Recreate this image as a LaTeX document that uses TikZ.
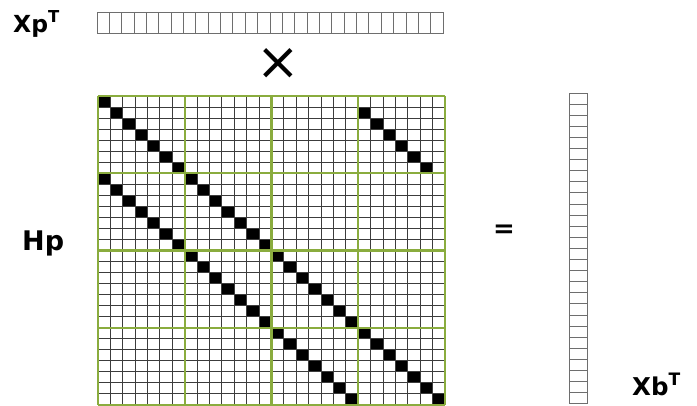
\documentclass[tikz,border=0pt]{standalone}
\usepackage{fontspec}
\setmainfont{DejaVu Sans}
\definecolor{blockgreen}{RGB}{138,172,62}
\definecolor{gridgray}{RGB}{60,60,60}
\definecolor{vecgray}{RGB}{110,110,110}
\begin{document}
\begin{tikzpicture}[x=1pt,y=-1pt,
  gridline/.style={draw=gridgray,line width=1pt},
  blockline/.style={draw=blockgreen,line width=2.2pt},
  vecline/.style={draw=vecgray,line width=1pt},
  lbl/.style={inner sep=0pt,anchor=base west,font=\bfseries}]
\useasboundingbox[fill=white] (0,0) rectangle (697,405);
\def\mx{98}\def\my{96}\def\cw{12.393}\def\ch{11.036}
% black diagonal cells
\foreach \br/\bc in {0/0,1/0,1/1,2/1,2/2,3/2,3/3}{
  \foreach \i in {0,...,6}{
    \pgfmathsetmacro\xa{\mx+(7*\bc+\i)*\cw}
    \pgfmathsetmacro\ya{\my+(7*\br+\i)*\ch}
    \fill[black] (\xa,\ya) rectangle ++(\cw,\ch);
  }
}
\foreach \i in {0,...,5}{
  \pgfmathsetmacro\xa{\mx+(21+\i)*\cw}
  \pgfmathsetmacro\ya{\my+(1+\i)*\ch}
  \fill[black] (\xa,\ya) rectangle ++(\cw,\ch);
}
% thin grid
\foreach \k in {0,...,28}{
  \pgfmathsetmacro\xa{\mx+\k*\cw}
  \pgfmathsetmacro\ya{\my+\k*\ch}
  \draw[gridline] (\xa,\my) -- (\xa,\my+28*\ch);
  \draw[gridline] (\mx,\ya) -- (\mx+28*\cw,\ya);
}
% block lines
\foreach \k in {0,7,14,21,28}{
  \pgfmathsetmacro\xa{\mx+\k*\cw}
  \pgfmathsetmacro\ya{\my+\k*\ch}
  \draw[blockline] (\xa,\my) -- (\xa,\my+28*\ch);
  \draw[blockline] (\mx,\ya) -- (\mx+28*\cw,\ya);
}
% top row vector
\def\tx{97}\def\ty{12}\def\tw{12.36}\def\th{21}
\draw[vecline] (\tx,\ty) rectangle (\tx+28*\tw,\ty+\th);
\foreach \k in {1,...,27}{
  \pgfmathsetmacro\xa{\tx+\k*\tw}
  \draw[vecline] (\xa,\ty) -- (\xa,\ty+\th);
}
% right column vector
\def\vx{569}\def\vy{93}\def\vw{18}\def\vh{11.1}
\draw[vecline] (\vx,\vy) rectangle (\vx+\vw,\vy+28*\vh);
\foreach \k in {1,...,27}{
  \pgfmathsetmacro\ya{\vy+\k*\vh}
  \draw[vecline] (\vx,\ya) -- (\vx+\vw,\ya);
}
% labels
\node[lbl,font=\bfseries\fontsize{23.5}{24}\selectfont] (xp) at (13,32) {Xp\textsuperscript{T}};
\node[lbl,font=\bfseries\fontsize{27}{28}\selectfont] (hp) at (22,250) {Hp};
\node[lbl,font=\bfseries\fontsize{24.5}{25}\selectfont] (xb) at (632,395) {Xb\textsuperscript{T}};
\node[inner sep=0pt,font=\bfseries\fontsize{26}{26}\selectfont] (eq) at (504,231) {=};
\node[inner sep=0pt,font=\fontsize{52}{52}\selectfont] (times) at (278,64) {×};
\end{tikzpicture}
\end{document}
